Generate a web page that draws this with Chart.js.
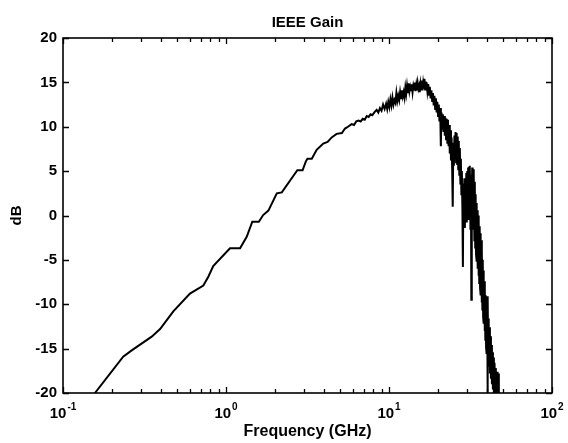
<!DOCTYPE html>
<html>
<head>
<meta charset="utf-8">
<script src="https://cdn.jsdelivr.net/npm/chart.js@4/dist/chart.umd.min.js"></script>
<style>
  html, body { margin: 0; padding: 0; background: #fff; }
</style>
</head>
<body>
<canvas id="gain" width="568" height="443"></canvas>
<script>
// IEEE gain vs frequency
const freqGHz = [
  // smooth rise
  0.157, 0.234, 0.264, 0.350, 0.394, 0.475, 0.601, 0.726, 0.779, 0.835,
  1.058, 1.22, 1.34, 1.45, 1.59, 1.69, 1.82, 2.05, 2.20, 2.74,
  2.95, 3.09, 3.16, 3.36, 3.60, 3.95, 4.20, 4.45, 4.77, 5.14, 5.37,
  // light ripple
  5.6, 5.9, 6.1, 6.3, 6.5, 6.7, 6.9, 7.1, 7.3, 7.5,
  7.7, 7.9, 8.2, 8.4, 8.6, 8.8, 9.0, 9.2, 9.4,
  // noisy top
  9.6, 9.75, 9.9, 10.05, 10.2, 10.35, 10.5, 10.65, 10.8, 10.95,
  11.1, 11.25, 11.4, 11.55, 11.7, 11.85, 12.0, 12.15, 12.3, 12.45,
  12.6, 12.75, 12.9, 13.05, 13.2, 13.35, 13.5, 13.65, 13.8, 13.95,
  14.1, 14.25, 14.4, 14.55, 14.7, 14.85, 15.0, 15.15, 15.3, 15.45,
  15.6, 15.75, 15.9, 16.05, 16.2, 16.35, 16.5, 16.65, 16.8, 16.95,
  // roll-off
  17.0, 17.2, 17.4, 17.6, 17.8, 18.0, 18.2, 18.4, 18.6, 18.8,
  19.0, 19.2, 19.4, 19.6, 19.8, 20.0, 20.2, 20.4, 20.6, 20.8,
  21.0, 21.2, 21.4, 21.6, 21.8, 22.0, 22.2, 22.4, 22.6, 22.8,
  23.0, 23.2, 23.4, 23.6, 23.8, 24.0, 24.2, 24.4, 24.6, 24.8,
  25.0, 25.2, 25.4, 25.6, 25.8, 26.0, 26.2, 26.4, 26.6, 26.8,
  27.0, 27.2, 27.4, 27.6, 27.8, 28.0, 28.2, 28.4, 28.6, 28.8,
  29.0, 29.2, 29.4, 29.6, 29.8, 30.0, 30.2, 30.4, 30.6, 30.8,
  31.0, 31.2, 31.4, 31.6, 31.8, 32.0, 32.2, 32.4, 32.6, 32.8,
  33.0, 33.2, 33.4, 33.6, 33.8, 34.0, 34.2, 34.4, 34.6, 34.8,
  35.0, 35.2, 35.4, 35.6, 35.8, 36.0, 36.2, 36.4, 36.6, 36.8,
  37.0, 37.2, 37.4, 37.6, 37.8, 38.0, 38.2, 38.4, 38.6, 38.8,
  39.0, 39.2, 39.4, 39.6, 39.8, 40.0, 40.2, 40.4, 40.6, 40.8,
  41.0, 41.3, 41.6, 41.9, 42.2, 42.5, 42.8, 43.1, 43.4, 43.7,
  44.0, 44.4, 44.8, 45.2, 45.6, 46.0, 46.4, 46.8, 47.2
];
const gainDb = [
  // smooth rise
  -20, -15.9, -15.2, -13.65, -12.8, -10.8, -8.8, -7.9, -6.9, -5.7,
  -3.7, -3.7, -2.4, -0.7, -0.7, 0.05, 0.55, 2.5, 2.6, 5.1,
  5.1, 6.1, 6.4, 6.4, 7.4, 8.1, 8.3, 8.8, 9.2, 9.3, 9.8,
  // light ripple
  10.0, 10.3, 10.2, 10.6, 10.7, 10.6, 10.9, 10.8, 11.2, 11.1,
  11.4, 11.3, 11.7, 11.9, 11.6, 12.1, 11.8, 12.5, 12.0,
  // noisy top
  12.6, 12.0, 12.8, 12.2, 13.1, 12.4, 13.3, 12.5, 13.0, 12.7,
  13.8, 12.9, 13.5, 13.0, 13.9, 13.2, 14.1, 13.4, 13.9, 13.3,
  14.4, 13.7, 14.6, 13.8, 14.9, 14.0, 14.5, 14.1, 14.8, 13.9,
  14.6, 14.2, 15.0, 14.0, 14.7, 14.1, 14.9, 14.3, 14.6, 13.9,
  14.8, 14.2, 15.2, 14.1, 14.9, 14.3, 15.4, 14.2, 15.1, 14.4,
  // roll-off
  15.0, 14.0, 14.8, 13.6, 14.5, 13.2, 14.1, 12.9, 13.8, 12.4,
  13.5, 12.0, 13.2, 11.6, 12.8, 11.2, 12.5, 10.6, 12.1, 7.8,
  11.6, 9.8, 11.4, 9.4, 11.2, 9.0, 11.0, 8.6, 10.9, 8.2,
  10.8, 7.8, 10.2, 7.0, 9.6, 6.2, 8.8, 5.4, 1.0, 8.2,
  5.6, 9.0, 6.4, 9.4, 6.0, 9.3, 5.8, 8.9, 5.2, 8.4,
  4.6, 7.6, 3.6, 6.4, 2.4, 5.0, 0.8, -5.8, 3.6, -0.5,
  4.2, -1.4, 3.4, 0.0, 4.8, -0.8, 5.0, 0.2, 5.4, -0.5,
  5.5, 0.6, 5.6, -1.5, 4.6, -9.5, 2.6, 5.4, -0.8, 5.2,
  -1.6, 4.6, -2.8, 3.8, -3.6, 2.4, -4.4, 1.4, -5.2, 0.6,
  -6.0, 0.0, -6.8, -0.6, -7.6, -1.2, -8.2, -2.0, -9.0, -2.8,
  -9.8, -4.0, -10.6, -5.0, -11.4, -6.2, -12.2, -7.4, -13.0, -8.4,
  -14.0, -9.0, -14.8, -9.6, -15.6, -10.4, -20.0, -9.1, -16.4, -11.6,
  -17.0, -12.6, -17.8, -13.6, -18.4, -14.6, -19.0, -15.4, -19.6, -16.0,
  -20.0, -16.6, -20.0, -17.2, -20.0, -17.6, -20.0, -17.8, -20.0
];

const xDecades = [0.1, 1, 10, 100];
const xDecadeExp = ['-1', '0', '1', '2'];
const xMinorMult = [2, 3, 4, 5, 6, 7, 8, 9];
const yTicks = [-20, -15, -10, -5, 0, 5, 10, 15, 20];

const FONT = "'Liberation Sans', Arial, Helvetica, sans-serif";

const xTickValues = [];
xDecades.forEach((d, i) => {
  xTickValues.push(d);
  if (i < xDecades.length - 1) xMinorMult.forEach(m => xTickValues.push(+(d * m).toPrecision(3)));
});

// MATLAB-style box: inward ticks on all four sides, 10^n labels
const matlabAxes = {
  id: 'matlabAxes',
  afterDraw(chart) {
    const { ctx, chartArea: a, scales: { x, y } } = chart;
    ctx.save();
    ctx.strokeStyle = '#000';
    ctx.lineWidth = 1.6;
    ctx.strokeRect(a.left, a.top, a.right - a.left, a.bottom - a.top);

    ctx.lineWidth = 1.3;
    ctx.beginPath();
    x.ticks.forEach(t => {
      const px = Math.round(x.getPixelForValue(t.value)) + 0.5;
      const len = xDecades.includes(t.value) ? 6 : 4;
      ctx.moveTo(px, a.bottom); ctx.lineTo(px, a.bottom - len);
      ctx.moveTo(px, a.top); ctx.lineTo(px, a.top + len);
    });
    yTicks.forEach(v => {
      const py = Math.round(y.getPixelForValue(v)) + 0.5;
      ctx.moveTo(a.left, py); ctx.lineTo(a.left + 6, py);
      ctx.moveTo(a.right, py); ctx.lineTo(a.right - 6, py);
    });
    ctx.stroke();

    ctx.fillStyle = '#000';
    ctx.textBaseline = 'middle';
    ctx.textAlign = 'left';
    xDecades.forEach((d, i) => {
      const px = x.getPixelForValue(d);
      ctx.font = 'bold 15px ' + FONT;
      const wBase = ctx.measureText('10').width;
      ctx.font = 'bold 10px ' + FONT;
      const wExp = ctx.measureText(xDecadeExp[i]).width;
      const start = px - (wBase + wExp + 1) / 2;
      ctx.font = 'bold 15px ' + FONT;
      ctx.fillText('10', start, 414);
      ctx.font = 'bold 10px ' + FONT;
      ctx.fillText(xDecadeExp[i], start + wBase + 1, 407);
    });
    ctx.restore();
  }
};

new Chart(document.getElementById('gain').getContext('2d'), {
  type: 'line',
  data: {
    datasets: [{
      data: freqGHz.map((f, i) => ({ x: f, y: gainDb[i] })),
      borderColor: '#000',
      borderWidth: 2,
      pointRadius: 0,
      tension: 0,
      fill: false
    }]
  },
  options: {
    responsive: false,
    animation: false,
    events: [],
    layout: { padding: { left: 0, right: 16, top: 0, bottom: 0 } },
    scales: {
      x: {
        type: 'logarithmic',
        min: 0.1,
        max: 100,
        afterBuildTicks: s => { s.ticks = xTickValues.map(v => ({ value: v })); },
        afterFit: s => { s.height = 50; },
        ticks: { display: false },
        grid: { display: false, drawTicks: false },
        border: { display: false },
        title: {
          display: true,
          text: 'Frequency (GHz)',
          color: '#000',
          font: { family: FONT, size: 16, weight: 'bold' },
          padding: { top: 0, bottom: 2 }
        }
      },
      y: {
        min: -20,
        max: 20,
        afterBuildTicks: s => { s.ticks = yTicks.map(v => ({ value: v })); },
        afterFit: s => { s.width = 63; },
        ticks: {
          color: '#000',
          padding: 6,
          font: { family: FONT, size: 15, weight: 'bold' }
        },
        grid: { display: false, drawTicks: false },
        border: { display: false },
        title: {
          display: true,
          text: 'dB',
          color: '#000',
          font: { family: FONT, size: 15, weight: 'bold' },
          padding: { top: 8, bottom: 0 }
        }
      }
    },
    plugins: {
      legend: { display: false },
      tooltip: { enabled: false },
      title: {
        display: true,
        text: 'IEEE Gain',
        color: '#000',
        fullSize: false,
        font: { family: FONT, size: 15, weight: 'bold' },
        padding: { top: 14, bottom: 6 }
      }
    }
  },
  plugins: [matlabAxes]
});
</script>
</body>
</html>
